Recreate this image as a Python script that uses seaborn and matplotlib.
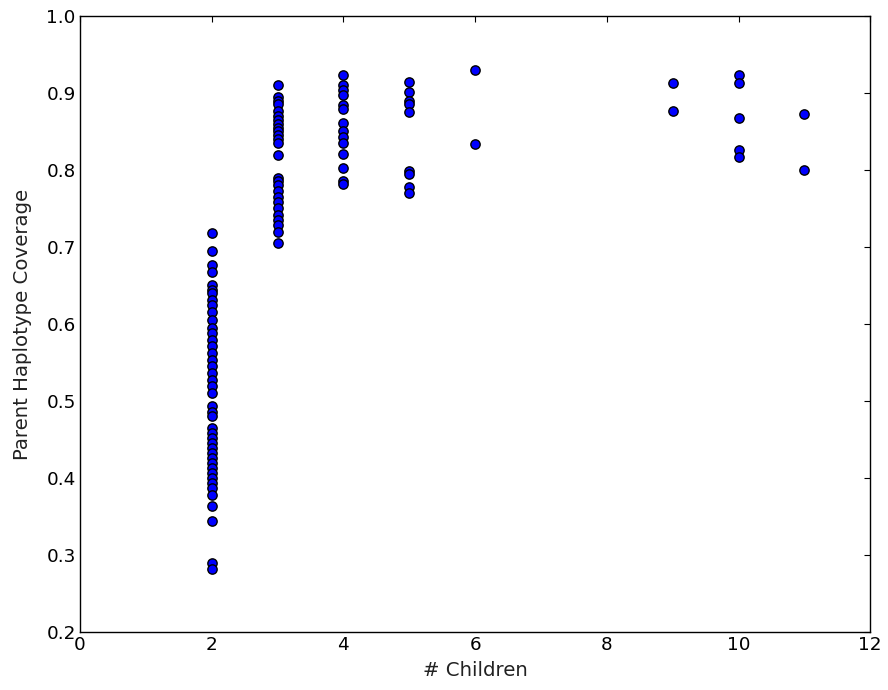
import matplotlib
matplotlib.use("Agg")
import matplotlib.pyplot as plt
import seaborn as sns
import pandas as pd

children_2 = [0.718, 0.695, 0.677, 0.667, 0.651, 0.644, 0.640, 0.631, 0.625, 0.616,
              0.605, 0.595, 0.588, 0.579, 0.571, 0.562, 0.553, 0.545, 0.536, 0.527,
              0.519, 0.510, 0.493, 0.486, 0.480, 0.465, 0.458, 0.452, 0.445, 0.439,
              0.432, 0.426, 0.419, 0.413, 0.406, 0.400, 0.393, 0.387, 0.378, 0.364,
              0.344, 0.290, 0.282]
children_3 = [0.910, 0.895, 0.890, 0.885, 0.876, 0.870, 0.865, 0.860, 0.855, 0.850,
              0.845, 0.840, 0.835, 0.819, 0.790, 0.785, 0.780, 0.772, 0.765, 0.758,
              0.750, 0.742, 0.735, 0.728, 0.720, 0.705]
children_4 = [0.923, 0.910, 0.904, 0.897, 0.884, 0.879, 0.861, 0.850, 0.843, 0.835,
              0.821, 0.803, 0.785, 0.782]
children_5 = [0.914, 0.901, 0.889, 0.886, 0.875, 0.798, 0.795, 0.778, 0.770]
children_6 = [0.930, 0.833]
children_9 = [0.913, 0.876]
children_10 = [0.923, 0.913, 0.867, 0.826, 0.817]
children_11 = [0.873, 0.800]

groups = {2: children_2, 3: children_3, 4: children_4, 5: children_5,
          6: children_6, 9: children_9, 10: children_10, 11: children_11}
df = pd.DataFrame([(k, v) for k, vals in groups.items() for v in vals],
                  columns=["children", "coverage"])

x_ticks = [0, 2, 4, 6, 8, 10, 12]
y_ticks = [0.2, 0.3, 0.4, 0.5, 0.6, 0.7, 0.8, 0.9, 1.0]

sns.set_style("white")
plt.rcParams['font.family'] = ['DejaVu Sans']

fig = plt.figure(figsize=(8.88, 6.9), dpi=100)
ax = fig.add_axes([0.090, 0.084, 0.890, 0.893])
sns.scatterplot(data=df, x="children", y="coverage", ax=ax, color="#0000ff",
                edgecolor="black", linewidth=1.0, s=45, legend=False)
ax.set_xlim(0, 12)
ax.set_ylim(0.2, 1.0)
ax.set_xticks(x_ticks)
ax.set_yticks(y_ticks)
ax.set_xticklabels([str(t) for t in x_ticks])
ax.set_yticklabels([f"{t:.1f}" for t in y_ticks])
ax.tick_params(direction="in", length=4, width=0.8, top=True, right=True,
               labelsize=13.2, colors="black", pad=3)
for sp in ax.spines.values():
    sp.set_visible(True)
    sp.set_color("black")
    sp.set_linewidth(1.0)
ax.set_xlabel("# Children", fontsize=14.2, labelpad=5, color="#222222")
ax.set_ylabel("Parent Haplotype Coverage", fontsize=14.2, labelpad=10, color="#222222")
fig.savefig("out.png", dpi=100)
